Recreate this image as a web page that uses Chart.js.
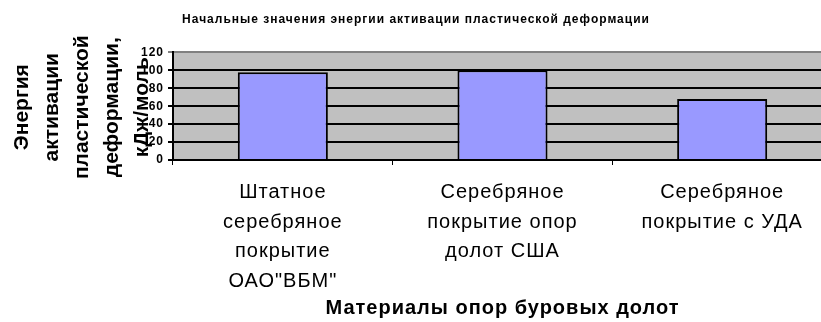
<!DOCTYPE html>
<html lang="ru">
<head>
<meta charset="utf-8">
<title>Энергия активации</title>
<script src="https://cdn.jsdelivr.net/npm/chart.js@4"></script>
<style>
  html, body { margin: 0; padding: 0; background: #fff; overflow: hidden; }
  .chart-box { position: relative; width: 832px; height: 322px; }
</style>
</head>
<body>
<div class="chart-box"><canvas id="energyChart"></canvas></div>
<script>
// materials, one label line per array entry
const materials = [
    ['Штатное', 'серебряное', 'покрытие', 'ОАО"ВБМ"'],
    ['Серебряное', 'покрытие опор', 'долот США'],
    ['Серебряное', 'покрытие с УДА']
];
// activation energy, kJ/mol
const energyValues = [98, 100, 68];
const yMin = 0;
const yMax = 120;
const yStep = 20;

const chartTitle = 'Начальные значения энергии активации пластической деформации';
const yTitle = ['Энергия', 'активации', 'пластической', 'деформации,', 'кДж/моль'];
const xTitle = 'Материалы опор буровых долот';

const FONT = '"Liberation Sans", Arial, sans-serif';

// grey plot background + letter spacing for canvas text
const plotBackground = {
    id: 'plotBackground',
    beforeDraw(chart) {
        const { ctx, chartArea: a } = chart;
        ctx.letterSpacing = '1px';
        ctx.save();
        ctx.fillStyle = '#c0c0c0';
        ctx.fillRect(a.left, a.top, a.right - a.left, a.bottom - a.top);
        ctx.restore();
    }
};

// rotated multi-line y title, drawn without letter spacing and overlapping the ticks
const yAxisTitle = {
    id: 'yAxisTitle',
    afterDraw(chart) {
        const { ctx, chartArea: a } = chart;
        const cy = (a.top + a.bottom) / 2 + 1;
        ctx.save();
        ctx.letterSpacing = '0px';
        ctx.font = 'bold 21px ' + FONT;
        ctx.fillStyle = '#000';
        ctx.textAlign = 'center';
        ctx.textBaseline = 'middle';
        yTitle.forEach((line, i) => {
            ctx.save();
            ctx.translate(22 + i * 30, cy);
            ctx.rotate(-Math.PI / 2);
            ctx.fillText(line, 0, 0);
            ctx.restore();
        });
        ctx.restore();
    }
};

new Chart(document.getElementById('energyChart'), {
    type: 'bar',
    data: {
        labels: materials,
        datasets: [{
            data: energyValues,
            backgroundColor: '#9999ff',
            borderColor: '#000',
            borderWidth: 2,
            barPercentage: 0.41,
            categoryPercentage: 1
        }]
    },
    options: {
        responsive: true,
        maintainAspectRatio: false,
        animation: false,
        layout: { padding: 0 },
        plugins: {
            legend: { display: false },
            tooltip: { enabled: false },
            title: {
                display: true,
                text: chartTitle,
                color: '#000',
                font: { family: FONT, size: 12, weight: 'bold' },
                padding: { top: 12, bottom: 26 }
            }
        },
        scales: {
            x: {
                grid: { drawOnChartArea: false, drawTicks: true, tickLength: 5, color: '#000', lineWidth: 1 },
                border: { color: '#000', width: 2 },
                ticks: {
                    color: '#000',
                    padding: 13,
                    maxRotation: 0,
                    autoSkip: false,
                    font: { family: FONT, size: 20, lineHeight: '29.5px' }
                },
                title: {
                    display: true,
                    text: xTitle,
                    color: '#000',
                    font: { family: FONT, size: 20, weight: 'bold' },
                    padding: { top: 0, bottom: 2 }
                },
                afterFit(scale) { scale.height = 162; }
            },
            y: {
                min: yMin,
                max: yMax,
                grid: {
                    color: ctx => (ctx.tick && ctx.tick.value === yMax ? '#808080' : '#000'),
                    lineWidth: 2,
                    tickLength: 5
                },
                border: { color: '#000', width: 2 },
                ticks: {
                    stepSize: yStep,
                    color: '#000',
                    padding: 4,
                    font: { family: FONT, size: 12, weight: 'bold' }
                },
                afterFit(scale) { scale.width = 173; }
            }
        }
    },
    plugins: [plotBackground, yAxisTitle]
});
</script>
</body>
</html>
